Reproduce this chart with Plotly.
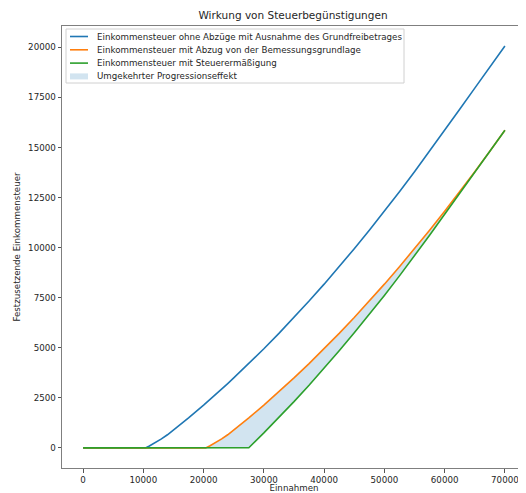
import plotly.graph_objects as go

# ---- data ----
income = [0, 5000, 10000, 10350, 11000, 12000, 13000, 14000, 15000, 17500, 20000, 20350,
          21000, 22000, 23000, 24000, 25000, 27470, 27500, 30000, 32500, 35000, 37500,
          40000, 42500, 45000, 47500, 50000, 52500, 55000, 57500, 60000, 62500,
          65000, 67500, 70000]
tax_plain = [0, 0, 0, 0, 96, 261, 448, 657, 887, 1500, 2139, 2230,
             2401, 2668, 2939, 3214, 3494, 4200, 4210, 4952, 5719, 6513, 7332,
             8177, 9048, 9945, 10867, 11816, 12790, 13790, 14816, 15864, 16914,
             17964, 19014, 20064]
tax_deduction = [0, 0, 0, 0, 0, 0, 0, 0, 0, 0, 0, 0,
                 96, 261, 448, 657, 887, 1492, 1500, 2139, 2803, 3494, 4210,
                 4952, 5719, 6513, 7332, 8177, 9048, 9945, 10867, 11816, 12790,
                 13790, 14816, 15864]
tax_credit = [0, 0, 0, 0, 0, 0, 0, 0, 0, 0, 0, 0,
              0, 0, 0, 0, 0, 0, 10, 752, 1519, 2313, 3132,
              3977, 4848, 5745, 6667, 7616, 8590, 9590, 10616, 11664, 12714,
              13764, 14814, 15864]

x_ticks = [0, 10000, 20000, 30000, 40000, 50000, 60000, 70000]
y_ticks = [0, 2500, 5000, 7500, 10000, 12500, 15000, 17500, 20000]

names = ["Einkommensteuer ohne Abzüge mit Ausnahme des Grundfreibetrages",
         "Einkommensteuer mit Abzug von der Bemessungsgrundlage",
         "Einkommensteuer mit Steuerermäßigung"]
fill_name = "Umgekehrter Progressionseffekt"
title = "Wirkung von Steuerbegünstigungen"
x_title = "Einnahmen"
y_title = "Festzusetzende Einkommensteuer"

colors = ["#1f77b4", "#ff7f0e", "#2ca02c"]
fill_color = "rgba(31,119,180,0.2)"
FONT = "DejaVu Sans"
TXT = "#262626"

# page body has an 8px margin; figure sized to fit the window
OFF = 8
W, H = 526 - OFF, 493 - OFF
L, R, T, B = 62 - OFF, 0, 26 - OFF, 25

fig = go.Figure()
# fill between deduction and credit curves
fig.add_trace(go.Scatter(x=income, y=tax_credit, mode="lines", line=dict(width=0),
                         showlegend=False, hoverinfo="skip"))
fig.add_trace(go.Scatter(x=income, y=tax_deduction, mode="none", fill="tonexty",
                         fillcolor=fill_color, name=fill_name, showlegend=False))
for ys, nm, c in zip([tax_plain, tax_deduction, tax_credit], names, colors):
    fig.add_trace(go.Scatter(x=income, y=ys, mode="lines", name=nm,
                             line=dict(color=c, width=1.6), showlegend=False))

pw = W - L - R
ph = H - T - B
# helpers: screenshot pixel -> paper coordinates
def pxx(px):
    return (px - OFF - L) / pw
def pxy(py):
    return (H - B - (py - OFF)) / ph

shapes = []
annotations = []
# legend box
shapes.append(dict(type="rect", xref="paper", yref="paper",
                   x0=pxx(66), x1=pxx(404), y0=pxy(83), y1=pxy(29),
                   line=dict(color="#d0d0d0", width=1), fillcolor="rgba(255,255,255,0.8)"))
rows = [36.5, 49.8, 63.1, 76.4]
for i, (nm, c) in enumerate(zip(names, colors)):
    shapes.append(dict(type="line", xref="paper", yref="paper",
                       x0=pxx(70), x1=pxx(88), y0=pxy(rows[i]), y1=pxy(rows[i]),
                       line=dict(color=c, width=1.6)))
shapes.append(dict(type="rect", xref="paper", yref="paper",
                   x0=pxx(70), x1=pxx(88), y0=pxy(rows[3] + 3), y1=pxy(rows[3] - 3),
                   line=dict(width=0), fillcolor=fill_color))
for i, nm in enumerate(names + [fill_name]):
    annotations.append(dict(text=nm, xref="paper", yref="paper", x=pxx(95), y=pxy(rows[i]),
                            xanchor="left", yanchor="middle", showarrow=False,
                            font=dict(family=FONT, size=8.7, color=TXT)))

fig.update_layout(
    width=W, height=H,
    margin=dict(l=L, r=R, t=T, b=B, autoexpand=False),
    paper_bgcolor="white", plot_bgcolor="white",
    font=dict(family=FONT, size=8.7, color=TXT),
    title=dict(text=title, x=pxx(293), xref="paper", xanchor="center",
               y=1 - (15 - OFF) / H, yanchor="middle", font=dict(family=FONT, size=10.5, color=TXT)),
    shapes=shapes, annotations=annotations,
    showlegend=False,
)
fig.update_xaxes(range=[-3500, 73500], tickvals=x_ticks, ticktext=[str(v) for v in x_ticks],
                 showgrid=False, zeroline=False, showline=True, linecolor="#7f7f7f",
                 linewidth=1, mirror=True, ticks="outside", ticklen=3.5, tickwidth=0.8,
                 tickcolor="#555", tickfont=dict(family=FONT, size=8.7, color=TXT),
                 title=dict(text=x_title, standoff=5, font=dict(family=FONT, size=8.7, color=TXT)),
                 automargin=False)
fig.update_yaxes(range=[-1003, 21067], tickvals=y_ticks, ticktext=[str(v) for v in y_ticks],
                 showgrid=False, zeroline=False, showline=True, linecolor="#7f7f7f",
                 linewidth=1, mirror=False, ticks="outside", ticklen=3.5, tickwidth=0.8,
                 tickcolor="#555", tickfont=dict(family=FONT, size=8.7, color=TXT),
                 title=dict(text=y_title, standoff=6, font=dict(family=FONT, size=8.7, color=TXT)),
                 automargin=False)

fig.write_html("out.html")
